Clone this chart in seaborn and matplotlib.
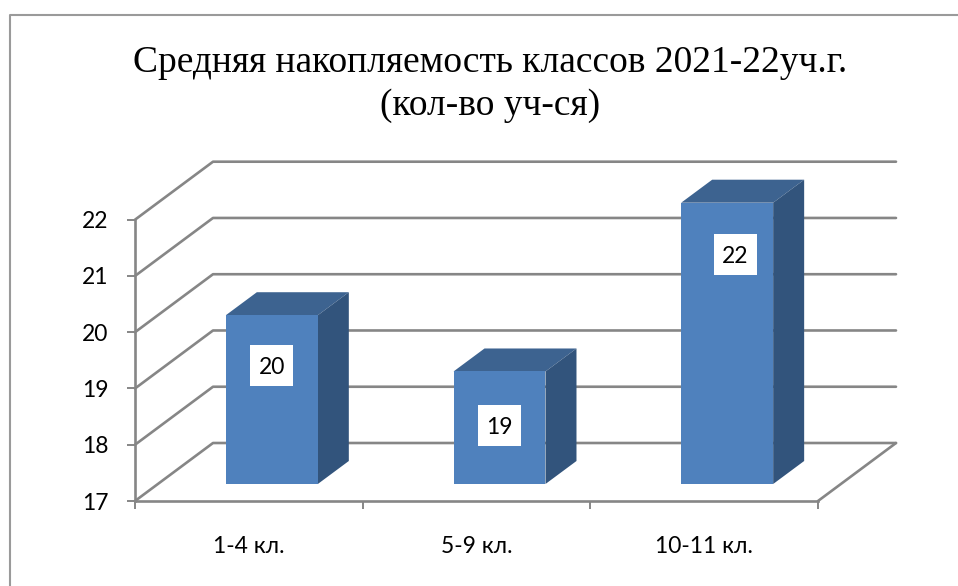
import matplotlib
matplotlib.use("Agg")
import matplotlib.pyplot as plt
import pandas as pd
import seaborn as sns
from matplotlib.lines import Line2D
from matplotlib.patches import Polygon, Rectangle
from matplotlib.transforms import Affine2D, IdentityTransform

categories = ["1-4 кл.", "5-9 кл.", "10-11 кл."]
values = [20, 19, 22]
y_ticks = [17, 18, 19, 20, 21, 22]
title_text = "Средняя накопляемость классов 2021-22уч.г.\n(кол-во уч-ся)"

W, H = 958, 586
GRID = "#868686"
FRONT, SIDE, TOP = "#4f81bd", "#32547c", "#3d6390"
WALL_DX, WALL_DY = 78, 58      # floor depth in pixels
BAR_DX, BAR_DY = 23, 17        # where the bars stand on the floor
CUBE_DX, CUBE_DY = 31, 23      # depth of one bar
LABEL_SHIFT = [(0, -50), (0, -54), (8, -52)]  # value label position against the bar top

sns.set_theme(style="white")
plt.rcParams["font.family"] = ["Lato", "Open Sans", "DejaVu Sans"]

fig = plt.figure(figsize=(W / 100, H / 100), dpi=100, facecolor="white")
ax = fig.add_axes([135 / W, 1 - 501 / H, 683 / W, 281.3 / H], facecolor="none")
df = pd.DataFrame({"level": categories, "value": values})
sns.barplot(data=df, x="level", y="value", color=FRONT, saturation=1,
            width=0.404, errorbar=None, ax=ax, zorder=4)
ax.set_xlim(-0.5, len(categories) - 0.5)
ax.set_ylim(min(y_ticks), max(y_ticks))
ax.set_xlabel("")
ax.set_ylabel("")


def project(x, y, dx=0, dy=0):
    px, py = ax.transData.transform((x, y))
    return px + dx, py + dy


x0, x1 = ax.get_xlim()
identity = IdentityTransform()

# wall and floor grid lines
for v in y_ticks:
    pts = [project(x0, v), project(x0, v, WALL_DX, WALL_DY), project(x1, v, WALL_DX, WALL_DY)]
    ax.add_line(Line2D(*zip(*pts), transform=identity, color=GRID, lw=1.9,
                       zorder=1, clip_on=False, solid_capstyle="round"))
floor = [project(x1, y_ticks[0]), project(x1, y_ticks[0], WALL_DX, WALL_DY)]
ax.add_line(Line2D(*zip(*floor), transform=identity, color=GRID, lw=1.9, zorder=1, clip_on=False))

# bars with their depth faces
shift = Affine2D().translate(BAR_DX, BAR_DY)
for patch, v, (nx, ny) in zip(ax.patches, values, LABEL_SHIFT):
    patch.set_y(y_ticks[0])
    patch.set_height(v - y_ticks[0])
    patch.set_transform(ax.transData + shift)
    patch.set_clip_on(False)
    patch.set_linewidth(0)
    left, right = patch.get_x(), patch.get_x() + patch.get_width()
    a = project(left, v, BAR_DX, BAR_DY)
    b = project(right, v, BAR_DX, BAR_DY)
    c = project(right, y_ticks[0], BAR_DX, BAR_DY)
    top = [a, b, (b[0] + CUBE_DX, b[1] + CUBE_DY), (a[0] + CUBE_DX, a[1] + CUBE_DY)]
    side = [b, c, (c[0] + CUBE_DX, c[1] + CUBE_DY), (b[0] + CUBE_DX, b[1] + CUBE_DY)]
    ax.add_patch(Polygon(top, transform=identity, fc=TOP, ec="none", zorder=3, clip_on=False))
    ax.add_patch(Polygon(side, transform=identity, fc=SIDE, ec="none", zorder=3, clip_on=False))
    cx, cy = (a[0] + b[0]) / 2 + nx, a[1] + ny
    ax.add_patch(Rectangle((cx - 21.5, cy - 20.5), 43, 41, transform=identity, fc="white",
                           ec="none", zorder=5, clip_on=False))
    ax.text(cx, cy, str(v), transform=identity, ha="center", va="center_baseline",
            fontsize=16.5, color="black", zorder=6, clip_on=False)

# axes
sns.despine(ax=ax, top=True, right=True)
for s in ("left", "bottom"):
    ax.spines[s].set_color(GRID)
    ax.spines[s].set_linewidth(1.9)
ax.set_yticks(y_ticks)
ax.tick_params(axis="y", left=True, length=6, width=1.4, color=GRID, pad=13,
               labelsize=16.5, labelcolor="black")
ax.set_xticks(range(len(categories)), categories)
ax.tick_params(axis="x", which="major", bottom=False, length=0, pad=25,
               labelsize=16.5, labelcolor="black")
ax.set_xticks([i - 0.5 for i in range(len(categories) + 1)], minor=True)
ax.tick_params(axis="x", which="minor", bottom=True, length=6, width=1.4, color=GRID)

# title and chart frame
fig.text(490 / W, 1 - 84 / H, title_text, ha="center", va="center", family="Liberation Serif",
         fontsize=27, color="black", linespacing=1.3)
fig.add_artist(Line2D([9.5 / W, 9.5 / W, 1], [0, 1 - 15 / H, 1 - 15 / H],
                      color="#9a9a9a", lw=1.5, transform=fig.transFigure))

fig.savefig("out.png", dpi=100, facecolor="white")
